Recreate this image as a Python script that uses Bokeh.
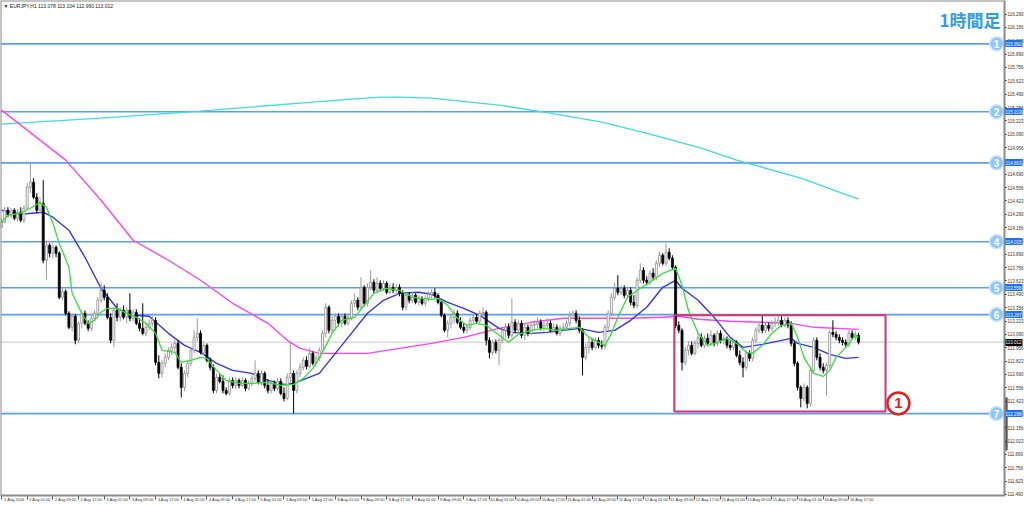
from bokeh.plotting import figure
from bokeh.models import FixedTicker, PrintfTickFormatter, Label, BoxAnnotation, LinearAxis
from bokeh.embed import file_html
from bokeh.resources import INLINE
from bokeh.core.properties import value

# ---------------- data (EURJPY H1) ----------------
bar_open = [114.16,114.21,114.33,114.28,114.33,114.25,114.31,114.23,114.35,114.56,
 114.61,114.46,114.33,114.40,113.83,113.98,113.90,113.96,113.90,113.46,
 113.52,113.30,113.16,113.27,113.03,113.20,113.30,113.20,113.15,113.25,
 113.30,113.43,113.53,113.46,113.26,113.03,113.33,113.26,113.33,113.26,
 113.33,113.25,113.31,113.20,113.15,113.10,113.16,113.20,113.23,112.81,
 112.70,112.80,112.86,112.93,112.96,113.00,112.76,112.56,112.70,112.80,
 112.93,113.06,113.10,112.91,112.98,112.83,112.76,112.53,112.66,112.62,
 112.53,112.50,112.63,112.58,112.63,112.58,112.63,112.55,112.60,112.65,
 112.70,112.61,112.70,112.58,112.53,112.60,112.55,112.62,112.50,112.45,
 112.66,112.70,112.53,112.70,112.76,112.83,112.77,112.90,112.80,112.85,
 112.93,113.10,113.36,113.13,113.23,113.27,113.20,113.27,113.20,113.26,
 113.40,113.43,113.36,113.56,113.40,113.56,113.61,113.53,113.60,113.55,
 113.60,113.51,113.56,113.53,113.56,113.50,113.36,113.48,113.43,113.48,
 113.41,113.45,113.40,113.45,113.49,113.51,113.48,113.41,113.28,113.13,
 113.20,113.26,113.30,113.21,113.16,113.13,113.16,113.23,113.26,113.22,
 113.30,113.31,113.03,112.91,113.01,112.93,113.03,113.13,113.16,113.08,
 113.21,113.13,113.20,113.08,113.16,113.10,113.18,113.19,113.21,113.15,
 113.18,113.20,113.13,113.16,113.10,113.15,113.16,113.20,113.28,113.30,
 113.23,113.13,112.86,112.96,113.01,112.96,113.03,112.98,112.97,113.16,
 113.30,113.46,113.55,113.51,113.55,113.48,113.53,113.41,113.38,113.63,
 113.73,113.63,113.61,113.70,113.66,113.80,113.88,113.80,113.91,113.85,
 113.76,113.18,113.13,112.81,112.93,112.98,112.90,113.00,113.06,112.98,
 113.05,113.00,113.08,113.00,113.10,113.03,113.05,112.98,112.96,113.01,
 112.88,112.81,112.76,112.90,112.85,113.03,113.13,113.18,113.13,113.18,
 113.15,113.20,113.21,113.23,113.18,113.23,113.18,113.00,112.80,112.56,
 112.45,112.56,112.40,112.73,113.03,112.86,112.76,112.73,112.78,113.11,
 113.09,113.06,113.03,113.01,112.99,113.10,113.06,113.078]
bar_high = [114.25,114.36,114.36,114.35,114.35,114.34,114.36,114.38,114.60,114.80,
 114.65,114.50,114.46,114.63,114.03,114.00,114.00,113.98,113.92,113.55,
 113.54,113.32,113.30,113.29,113.22,113.33,113.33,113.23,113.28,113.33,
 113.46,113.61,113.58,113.50,113.30,113.36,113.40,113.36,113.38,113.36,
 113.50,113.34,113.34,113.25,113.40,113.20,113.24,113.27,113.26,112.88,
 112.83,112.90,112.96,113.00,113.03,113.03,112.80,112.73,112.83,112.96,
 113.13,113.25,113.13,113.02,113.00,112.86,112.79,112.70,112.70,112.68,
 112.56,112.66,112.66,112.66,112.65,112.66,112.65,112.63,112.68,112.83,
 112.73,112.73,112.72,112.64,112.63,112.63,112.65,112.65,112.56,112.70,
 113.01,112.73,112.73,112.80,112.86,112.87,112.95,112.92,112.88,112.96,
 113.13,113.40,113.38,113.27,113.30,113.30,113.30,113.30,113.30,113.43,
 113.50,113.46,113.66,113.58,113.60,113.73,113.64,113.66,113.63,113.63,
 113.62,113.60,113.60,113.59,113.59,113.53,113.51,113.51,113.51,113.50,
 113.48,113.47,113.48,113.52,113.54,113.55,113.50,113.43,113.30,113.23,
 113.30,113.34,113.33,113.26,113.20,113.19,113.26,113.30,113.29,113.33,
 113.36,113.33,113.06,113.04,113.04,113.05,113.16,113.20,113.20,113.45,
 113.24,113.23,113.23,113.20,113.19,113.22,113.23,113.26,113.24,113.22,
 113.25,113.23,113.20,113.19,113.18,113.20,113.23,113.32,113.33,113.33,
 113.27,113.15,113.00,113.05,113.05,113.06,113.06,113.03,113.19,113.33,
 113.50,113.60,113.68,113.58,113.58,113.56,113.56,113.48,113.66,113.80,
 113.76,113.67,113.73,113.75,113.83,113.92,113.90,114.00,113.95,113.88,
 113.78,113.22,113.15,112.96,113.02,113.02,113.03,113.10,113.10,113.08,
 113.10,113.13,113.10,113.13,113.13,113.08,113.07,113.03,113.04,113.03,
 112.93,112.86,112.93,112.93,113.06,113.16,113.21,113.28,113.21,113.21,
 113.23,113.26,113.27,113.27,113.26,113.26,113.22,113.02,112.82,112.58,
 112.60,112.58,112.76,113.06,113.06,112.90,112.80,112.81,113.13,113.23,
 113.12,113.09,113.06,113.04,113.13,113.13,113.12,113.104]
bar_low = [114.15,114.20,114.26,114.25,114.23,114.22,114.21,114.20,114.33,114.50,
 114.44,114.30,114.30,113.80,113.63,113.86,113.85,113.86,113.44,113.43,
 113.28,113.14,113.12,112.99,113.00,113.15,113.18,113.12,113.12,113.22,
 113.28,113.40,113.43,113.24,113.00,112.96,113.22,113.22,113.24,113.20,
 113.22,113.22,113.18,113.12,113.08,113.07,113.13,113.17,112.78,112.65,
 112.66,112.76,112.83,112.88,112.90,112.74,112.46,112.52,112.66,112.77,
 112.90,113.02,112.89,112.88,112.81,112.73,112.50,112.50,112.60,112.50,
 112.48,112.48,112.55,112.54,112.55,112.56,112.52,112.53,112.57,112.62,
 112.59,112.58,112.55,112.50,112.50,112.52,112.53,112.48,112.42,112.43,
 112.60,112.30,112.50,112.66,112.73,112.74,112.75,112.78,112.77,112.82,
 112.90,113.06,113.10,113.10,113.14,113.17,113.16,113.18,113.18,113.23,
 113.36,113.33,113.33,113.37,113.37,113.53,113.50,113.50,113.52,113.52,
 113.49,113.49,113.50,113.48,113.47,113.33,113.33,113.40,113.40,113.39,
 113.38,113.38,113.37,113.42,113.45,113.45,113.39,113.26,113.11,113.06,
 113.15,113.20,113.19,113.14,113.10,113.10,113.13,113.20,113.20,113.19,
 113.26,112.98,112.85,112.88,112.90,112.78,113.00,113.06,113.05,113.05,
 113.10,113.10,113.05,113.03,113.07,113.08,113.13,113.15,113.13,113.12,
 113.15,113.11,113.10,113.08,113.07,113.12,113.13,113.17,113.25,113.20,
 113.10,112.68,112.83,112.90,112.93,112.94,112.95,112.94,112.94,113.13,
 113.27,113.43,113.48,113.48,113.45,113.45,113.38,113.35,113.35,113.60,
 113.60,113.58,113.58,113.63,113.63,113.76,113.78,113.77,113.83,113.73,
 113.15,113.10,112.73,112.78,112.88,112.88,112.88,112.95,112.96,112.95,
 112.97,112.97,112.97,112.97,113.00,112.99,112.95,112.93,112.93,112.86,
 112.78,112.66,112.73,112.82,112.82,113.00,113.10,113.10,113.10,113.12,
 113.12,113.16,113.18,113.16,113.16,113.15,112.97,112.77,112.53,112.36,
 112.42,112.35,112.37,112.70,112.83,112.73,112.70,112.48,112.75,113.06,
 113.03,113.00,112.98,112.96,112.96,113.04,113.03,112.990]
bar_close = [114.21,114.33,114.28,114.33,114.25,114.31,114.23,114.35,114.56,114.61,
 114.46,114.33,114.40,113.83,113.98,113.90,113.96,113.90,113.46,113.52,
 113.30,113.16,113.27,113.03,113.20,113.30,113.20,113.15,113.25,113.30,
 113.43,113.53,113.46,113.26,113.03,113.33,113.26,113.33,113.26,113.33,
 113.25,113.31,113.20,113.15,113.10,113.16,113.20,113.23,112.81,112.70,
 112.80,112.86,112.93,112.96,113.00,112.76,112.56,112.70,112.80,112.93,
 113.06,113.10,112.91,112.98,112.83,112.76,112.53,112.66,112.62,112.53,
 112.50,112.63,112.58,112.63,112.58,112.63,112.55,112.60,112.65,112.70,
 112.61,112.70,112.58,112.53,112.60,112.55,112.62,112.50,112.45,112.66,
 112.70,112.53,112.70,112.76,112.83,112.77,112.90,112.80,112.85,112.93,
 113.10,113.36,113.13,113.23,113.27,113.20,113.27,113.20,113.26,113.40,
 113.43,113.36,113.56,113.40,113.56,113.61,113.53,113.60,113.55,113.60,
 113.51,113.56,113.53,113.56,113.50,113.36,113.48,113.43,113.48,113.41,
 113.45,113.40,113.45,113.49,113.51,113.48,113.41,113.28,113.13,113.20,
 113.26,113.30,113.21,113.16,113.13,113.16,113.23,113.26,113.22,113.30,
 113.31,113.03,112.91,113.01,112.93,113.03,113.13,113.16,113.08,113.21,
 113.13,113.20,113.08,113.16,113.10,113.18,113.19,113.21,113.15,113.18,
 113.20,113.13,113.16,113.10,113.15,113.16,113.20,113.28,113.30,113.23,
 113.13,112.86,112.96,113.01,112.96,113.03,112.98,112.97,113.16,113.30,
 113.46,113.55,113.51,113.55,113.48,113.53,113.41,113.38,113.63,113.73,
 113.63,113.61,113.70,113.66,113.80,113.88,113.80,113.91,113.85,113.76,
 113.18,113.13,112.81,112.93,112.98,112.90,113.00,113.06,112.98,113.05,
 113.00,113.08,113.00,113.10,113.03,113.05,112.98,112.96,113.01,112.88,
 112.81,112.76,112.90,112.85,113.03,113.13,113.18,113.13,113.18,113.15,
 113.20,113.21,113.23,113.18,113.23,113.18,113.00,112.80,112.56,112.45,
 112.56,112.40,112.73,113.03,112.86,112.76,112.73,112.78,113.11,113.09,
 113.06,113.03,113.01,112.99,113.10,113.06,113.09,113.012]

x_tick_bars = list(range(0, 265, 8))
x_tick_labels = ["1 Aug 2016", "2 Aug 01:00", "2 Aug 09:00", "2 Aug 17:00", "3 Aug 01:00",
 "3 Aug 09:00", "3 Aug 17:00", "4 Aug 01:00", "4 Aug 09:00", "4 Aug 17:00", "5 Aug 01:00",
 "5 Aug 09:00", "5 Aug 17:00", "8 Aug 01:00", "8 Aug 09:00", "8 Aug 17:00", "9 Aug 01:00",
 "9 Aug 09:00", "9 Aug 17:00", "10 Aug 01:00", "10 Aug 09:00", "10 Aug 17:00",
 "11 Aug 01:00", "11 Aug 09:00", "11 Aug 17:00", "12 Aug 01:00", "12 Aug 09:00",
 "12 Aug 17:00", "15 Aug 01:00", "15 Aug 09:00", "15 Aug 17:00", "16 Aug 01:00",
 "16 Aug 09:00", "16 Aug 17:00"]

y_tick_values = [111.490, 111.623, 111.756, 111.890, 112.023, 112.156, 112.290, 112.423,
 112.556, 112.690, 112.823, 112.956, 113.090, 113.223, 113.356, 113.490, 113.623, 113.756,
 113.890, 114.023, 114.156, 114.290, 114.423, 114.556, 114.690, 114.823, 114.956, 115.090,
 115.223, 115.356, 115.490, 115.623, 115.756, 115.890, 116.023, 116.156, 116.290]

green_x = [0,2,6,9,12,14,16,18,21,22,25,27,29,31,33,36,39,42,45,48,50,54,56,59,62,64,67,70,74,78,
 83,87,91,94,97,100,103,106,110,113,116,120,124,128,134,136,139,142,145,148,151,155,158,161,165,
 169,173,177,180,183,186,188,190,192,195,199,203,206,210,212,214,217,220,223,226,229,232,234,237,
 240,243,246,248,250,253,256,258,260,263,266,267]
green_y = [114.21,114.28,114.30,114.35,114.41,114.36,114.20,114.00,113.76,113.50,
 113.30,113.20,113.23,113.31,113.35,113.35,113.30,113.26,113.20,113.10,
 112.93,112.91,112.81,112.83,112.86,112.85,112.73,112.63,112.60,112.60,
 112.61,112.58,112.59,112.65,112.75,112.91,113.10,113.23,113.26,113.38,
 113.50,113.55,113.53,113.46,113.44,113.45,113.38,113.25,113.18,113.20,
 113.18,113.08,113.01,113.09,113.13,113.15,113.13,113.15,113.16,113.06,
 113.01,112.98,113.10,113.26,113.46,113.55,113.63,113.70,113.75,113.58,
 113.33,113.10,112.98,113.01,113.05,113.00,112.91,112.90,112.98,113.10,
 113.18,113.20,113.06,112.86,112.70,112.67,112.73,112.86,112.96,113.08,113.06]

blue_x = [0,6,13,16,21,26,31,36,41,46,52,57,62,67,72,78,83,88,91,95,99,103,109,114,119,124,130,
 134,139,144,149,155,159,165,170,175,180,186,191,196,201,206,210,212,217,222,227,231,237,243,246,
 248,253,258,263,267]
blue_y = [114.33,114.29,114.31,114.26,114.13,113.86,113.55,113.35,113.28,113.27,
 113.10,112.98,112.91,112.80,112.73,112.70,112.63,112.59,112.60,112.65,
 112.70,112.86,113.10,113.30,113.43,113.50,113.51,113.49,113.41,113.35,
 113.28,113.15,113.11,113.10,113.11,113.13,113.15,113.11,113.13,113.23,
 113.36,113.56,113.63,113.55,113.43,113.26,113.06,112.96,112.99,113.03,
 113.05,113.00,112.96,112.89,112.85,112.86]

magenta_x = [0,6,12,20,31,41,52,62,72,83,89,93,99,114,124,134,144,155,165,175,186,196,206,211,
 217,227,237,246,253,267]
magenta_y = [115.33,115.18,115.03,114.83,114.43,114.03,113.83,113.63,113.40,113.20,
 113.03,112.95,112.90,112.90,112.95,113.00,113.06,113.15,113.21,113.25,
 113.25,113.25,113.26,113.27,113.24,113.22,113.21,113.20,113.16,113.14]

cyan_x = [0,31,62,93,109,118,124,134,155,171,187,202,218,229,249,267]
cyan_y = [115.19,115.25,115.32,115.40,115.44,115.46,115.46,115.45,115.38,115.30,
 115.21,115.09,114.95,114.83,114.65,114.44]

level_prices = [115.992, 115.313, 114.803, 114.015, 113.556, 113.287, 112.298]
level_names = ["1", "2", "3", "4", "5", "6", "7"]

# ---------------- geometry of the chart window ----------------
X0 = -0.31         # left edge of the canvas (bar units)
X_AXIS = 312.46    # bar position of the price scale line
XR = 318.69        # right edge of the canvas
Y_TOP = 116.425    # top edge of the canvas (price)
Y_AXIS = 111.48    # price at the time-axis line
Y_BOT = 111.37     # bottom edge of the canvas
LABEL_SHIFT = 4.0  # x labels start just right of their tick mark

p = figure(width=1024, height=506, x_range=(X0, XR), y_range=(Y_BOT, Y_TOP),
           output_backend="svg", toolbar_location=None,
           x_axis_location=None, y_axis_location=None,
           min_border_left=0, min_border_top=0, min_border_right=0, min_border_bottom=0,
           background_fill_color="white", border_fill_color="white")
p.xgrid.visible = False
p.ygrid.visible = False
p.outline_line_color = None

# chart border
p.add_layout(BoxAnnotation(left=X0, right=X_AXIS, top=Y_TOP, bottom=Y_AXIS, fill_alpha=0,
                           line_color="#8a8a8a", line_alpha=1.0, line_width=2))

n = len(bar_close)
bars = list(range(n))
up = [c >= o for o, c in zip(bar_open, bar_close)]
body_top = [max(o, c) for o, c in zip(bar_open, bar_close)]
body_bot = [min(o, c) for o, c in zip(bar_open, bar_close)]
wick_col = ["#9a9a9a" if u else "#000000" for u in up]
body_fill = ["#ffffff" if u else "#000000" for u in up]
body_line = ["#8c8c8c" if u else "#000000" for u in up]

# horizontal levels (stop at the price scale)
p.segment(x0=[X0] * len(level_prices), y0=level_prices, x1=[X_AXIS] * len(level_prices),
          y1=level_prices, line_color="#5a9ef5", line_width=1.6)
p.segment(x0=[X0], y0=[bar_close[-1]], x1=[X_AXIS], y1=[bar_close[-1]],
          line_color="#c8c8c8", line_width=1)

# moving averages
p.line(cyan_x, cyan_y, line_color="#3fdcdc", line_width=1.4)
p.line(magenta_x, magenta_y, line_color="#ff44ee", line_width=1.4)
p.line(blue_x, blue_y, line_color="#3434f0", line_width=1.4)

# candles
p.segment(x0=bars, y0=bar_high, x1=bars, y1=bar_low, line_color=wick_col, line_width=1)
p.vbar(x=bars, width=0.62, top=body_top, bottom=body_bot, fill_color=body_fill,
       line_color=body_line, line_width=0.8)

p.line(green_x, green_y, line_color="#33e033", line_width=1.3)

# range box and marker
p.add_layout(BoxAnnotation(left=209.6, right=275.4, top=113.28, bottom=112.32,
                           fill_alpha=0, line_color="#d8336e", line_alpha=1.0, line_width=2))
p.scatter([279.4], [112.40], marker="circle", size=22, fill_color="white",
          line_color="#e0201c", line_width=2.5)
p.text([279.4], [112.40], text=["1"], text_align="center", text_baseline="middle",
       text_font=value("Liberation Sans"), text_font_style="bold",
       text_font_size="15px", text_color="#e0201c")

# circled level numbers
mark_x = [310.0] * len(level_prices)
p.scatter(mark_x, level_prices, marker="circle", size=14, fill_color="#8cc6ff",
          line_color="#cfe6ff", line_width=1.5)
p.text(mark_x, level_prices, text=level_names, text_align="center", text_baseline="middle",
       text_font=value("Liberation Sans"), text_font_style="bold", text_font_size="10px",
       text_color="white")

# scroll marker on the price scale
p.segment(x0=[X_AXIS + 0.6], y0=[112.46], x1=[X_AXIS + 0.6], y1=[111.93],
          line_color="#555555", line_width=2.5)

# header and title
hdr = "\u25bc EURJPY,H1  %.3f %.3f %.3f %.3f" % (bar_open[-1], bar_high[-1], bar_low[-1], bar_close[-1])
p.add_layout(Label(x=X0, y=Y_TOP, x_offset=3, y_offset=-2, text=hdr, text_font_size="5px",
                   text_baseline="top", text_color="#222222", text_font="Liberation Sans"))
p.add_layout(Label(x=X_AXIS, y=Y_TOP, x_offset=-4, y_offset=-6, text="1時間足", text_align="right",
                   text_baseline="top", text_font="Noto Sans CJK JP", text_font_style="bold",
                   text_font_size="17px", text_color="#2f9bee"))

# ---------------- price scale ----------------
yaxis = LinearAxis(fixed_location=X_AXIS, ticker=FixedTicker(ticks=y_tick_values),
                   formatter=PrintfTickFormatter(format="%.3f"), bounds=(Y_AXIS, Y_TOP),
                   major_label_text_font_size="4.5px", major_label_text_font="Liberation Sans",
                   major_label_text_color="#333333", major_tick_out=2, major_tick_in=0,
                   minor_tick_line_color=None, minor_tick_out=0, axis_line_color="#555555",
                   axis_line_width=1, major_label_standoff=1)
p.add_layout(yaxis, "right")

lvl_axis = LinearAxis(fixed_location=X_AXIS, ticker=FixedTicker(ticks=level_prices),
                      formatter=PrintfTickFormatter(format="%.3f"),
                      major_tick_out=18, major_tick_in=0, major_tick_line_width=7,
                      major_tick_line_color="#1f6fff", major_label_standoff=-17,
                      major_label_text_color="white", major_label_text_font_size="4.5px",
                      major_label_text_font="Liberation Sans",
                      axis_line_color=None, minor_tick_line_color=None, minor_tick_out=0)
p.add_layout(lvl_axis, "right")
last_axis = LinearAxis(fixed_location=X_AXIS, ticker=FixedTicker(ticks=[bar_close[-1]]),
                       formatter=PrintfTickFormatter(format="%.3f"),
                       major_tick_out=18, major_tick_in=0, major_tick_line_width=7,
                       major_tick_line_color="#000000", major_label_standoff=-17,
                       major_label_text_color="white", major_label_text_font_size="4.5px",
                       major_label_text_font="Liberation Sans",
                       axis_line_color=None, minor_tick_line_color=None, minor_tick_out=0)
p.add_layout(last_axis, "right")

# ---------------- time axis ----------------
label_pos = [b + LABEL_SHIFT for b in x_tick_bars]
xaxis = LinearAxis(fixed_location=Y_AXIS,
                   ticker=FixedTicker(ticks=label_pos, minor_ticks=x_tick_bars),
                   bounds=(X0, X_AXIS),
                   major_label_overrides={lp_: t for lp_, t in zip(label_pos, x_tick_labels)},
                   major_label_text_font_size="4px", major_label_text_font="Liberation Sans",
                   major_label_text_color="#333333",
                   major_tick_line_color=None, major_tick_out=0, major_tick_in=0,
                   minor_tick_line_color="#555555", minor_tick_out=4, minor_tick_in=0,
                   axis_line_color="#555555", major_label_standoff=-2)
p.add_layout(xaxis, "below")

open("out.html", "w").write(file_html(p, INLINE))
